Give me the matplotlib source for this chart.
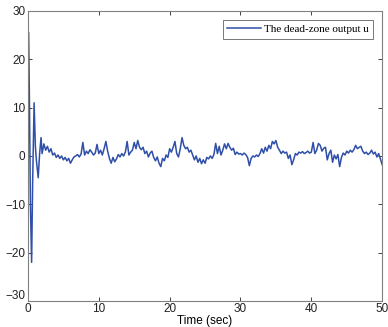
import numpy as np
import matplotlib.pyplot as plt
import matplotlib.transforms as mtransforms

# transient at the start (irregular sample times)
t_start = [0.1, 0.22, 0.35, 0.52, 0.67, 0.87, 1.05, 1.2, 1.45, 1.65, 1.85]
u_start = [25.5, 10.0, -10.0, -22.0, -5.0, 11.0, 2.0, -1.0, -4.5, 0.5, 3.8]

# steady part, one row per second, samples every 0.25 s from t = 2
u_steady = [
    0.5, 2.5, 1.2, 2.0,
    0.8, 1.5, 0.2, 0.6,
    -0.3, 0.2, -0.5, 0.0,
    -0.8, -0.3, -1.0, -0.5,
    -1.5, -0.8, -0.2, 0.0,
    0.3, -0.2, 0.4, 2.8,
    0.2, 1.0, 0.5, 1.3,
    0.8, 0.2, 0.6, 2.4,
    0.5, 1.2, 0.2, 1.5,
    3.0, 1.0, -0.5, -1.5,
    -0.3, -1.2, -0.6, 0.3,
    -0.2, 0.5, 0.0, 0.8,
    3.0, 0.2, 0.8, 1.2,
    2.8, 1.5, 3.2, 1.8,
    1.3, 1.8, 0.5, 1.0,
    -0.2, 0.6, 1.0, -0.3,
    -1.0, -0.2, -1.5, -2.2,
    -0.5, -1.0, 0.2, -0.3,
    1.5, 0.8, 1.8, 3.0,
    0.5, -0.2, 1.5, 3.8,
    2.2, 1.5, 1.8, 0.8,
    1.2, 0.2, -0.8, 0.0,
    -1.3, -0.5, -1.6, -0.8,
    -1.5, -0.3, -0.6, 0.0,
    -0.5, 0.3, 2.6, 0.5,
    2.0, 0.2, 1.2, 2.5,
    1.5, 2.6, 1.8, 1.2,
    1.6, 0.3, 0.8, 0.4,
    0.5, 0.2, 0.6, 0.3,
    -0.3, -2.0, -0.5, 0.0,
    -0.2, 0.2, -0.1, 0.5,
    1.5, 0.6, 1.8, 1.0,
    2.2, 1.5, 3.0, 2.5,
    3.2, 1.8, 1.2, 0.5,
    1.0, 0.6, 0.8, -0.5,
    0.2, -1.8, -0.8, 0.5,
    0.2, 0.8, 0.6, 0.9,
    0.5, 0.7, 1.0, 0.6,
    0.8, 2.8, 0.5, 1.2,
    2.6, 2.2, 1.0, 1.6,
    1.8, -0.8, 0.5, 1.2,
    -1.3, 0.2, -0.6, 0.3,
    -2.2, -0.3, 0.6, 0.2,
    1.0, 0.6, 1.2, 0.8,
    1.3, 2.2, 1.5, 1.8,
    2.0, 1.0, 0.5, 0.8,
    0.3, 0.6, 1.2, 0.4,
    0.8, -0.2, 0.5, -0.6,
    -1.8,
]
t_steady = 2.0 + 0.25 * np.arange(len(u_steady))

t = np.concatenate([t_start, t_steady])
u = np.concatenate([u_start, u_steady])

fig = plt.figure(figsize=(3.88, 3.27), dpi=100)
ax = fig.add_axes([0.072, 0.0795, 0.913, 0.887])

ax.plot(t, u, color="#2f4fa8", lw=1.1, label="The dead-zone output u")

ax.set_xlim(0, 50)
ax.set_ylim(-30, 30)
ax.set_xticks([0, 10, 20, 30, 40, 50])
ax.set_yticks([-30, -20, -10, 0, 10, 20, 30])
ax.tick_params(direction="in", length=3, top=True, right=True,
               labelsize=8.5, colors="#222222", width=0.6)
ax.tick_params(axis="x", pad=1.5)
ax.tick_params(axis="y", pad=2)
for sp in ax.spines.values():
    sp.set_color("#808080")
    sp.set_linewidth(0.8)
for lab in ax.get_xticklabels() + ax.get_yticklabels():
    lab.set_family("Liberation Sans")

# the lowest y label sits a little above its tick, as in the source
ylabs = ax.get_yticklabels()
ylabs[0].set_transform(ylabs[0].get_transform() +
                       mtransforms.ScaledTranslation(0, 7 / 100, fig.dpi_scale_trans))

ax.set_xlabel("Time (sec)", fontsize=8.5, family="Liberation Sans", labelpad=0)

leg = ax.legend(loc="upper right", prop={"family": "Liberation Serif", "size": 8},
                fancybox=False, framealpha=1, edgecolor="#777777",
                handlelength=3.0, handletextpad=0.3, borderpad=0.4,
                borderaxespad=0.8)
leg.get_frame().set_linewidth(0.7)

fig.savefig("out.png", dpi=100)
